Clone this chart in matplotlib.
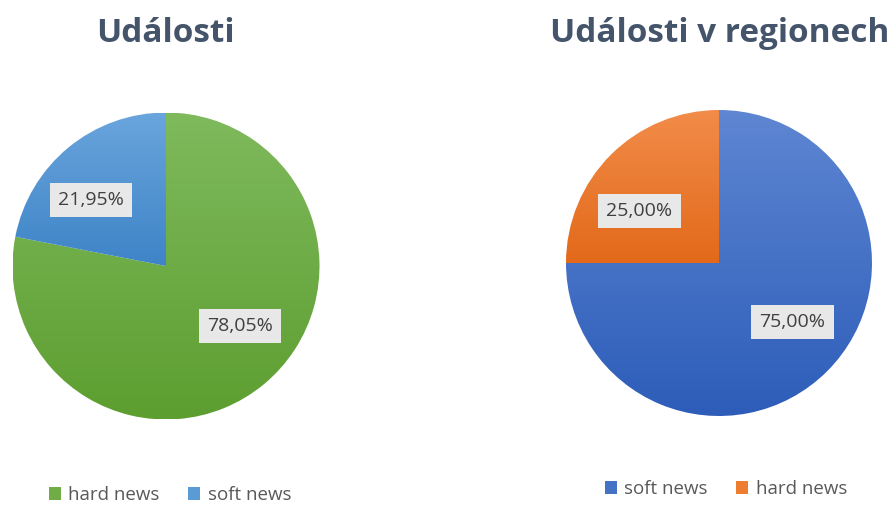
import matplotlib
matplotlib.use("Agg")
import matplotlib.pyplot as plt
import numpy as np
from matplotlib.colors import LinearSegmentedColormap
from matplotlib.patches import Rectangle

# ---- data ----
titles = ["Události", "Události v regionech"]
left_labels = ["hard news", "soft news"]
left_values = [78.05, 21.95]
right_labels = ["soft news", "hard news"]
right_values = [75.00, 25.00]

# ---- styles ----
left_grad = [("#7fba5d", "#5d9e30"), ("#6aa5dd", "#3e84c7")]
right_grad = [("#5e86d2", "#2d5db9"), ("#f28c49", "#e2691a")]
left_solid = ["#70ad47", "#5b9bd5"]
right_solid = ["#4472c4", "#ed7d31"]
# label positions (pie units) in the reference layout
left_lpos = [(0.48, -0.39), (-0.49, 0.43)]
right_lpos = [(0.48, -0.385), (-0.52, 0.34)]

W, H = 892, 505
fig = plt.figure(figsize=(W / 100, H / 100), dpi=100)
fig.patch.set_facecolor("white")

title_color = "#44546a"
text_color = "#404040"


def make_ax(cx, cy, r):
    ax = fig.add_axes([(cx - r) / W, (H - cy - r) / H, 2 * r / W, 2 * r / H])
    ax.set_xlim(-1, 1)
    ax.set_ylim(-1, 1)
    ax.set_aspect("equal")
    ax.axis("off")
    return ax


def draw_pie(ax, values, grads, lpos):
    wedges, _ = ax.pie(values, startangle=90, counterclock=False, radius=1,
                       colors=["none"] * len(values),
                       wedgeprops=dict(linewidth=0))
    grad = np.linspace(0, 1, 256).reshape(-1, 1)
    for w, (c_top, c_bot) in zip(wedges, grads):
        ext = w.get_path().get_extents()
        cmap = LinearSegmentedColormap.from_list("g", [c_top, c_bot])
        im = ax.imshow(grad, cmap=cmap, aspect="auto",
                       extent=[ext.x0, ext.x1, ext.y0, ext.y1],
                       origin="upper", zorder=1, interpolation="bilinear")
        im.set_clip_path(w)
    ax.set_xlim(-1, 1)
    ax.set_ylim(-1, 1)
    for v, (x, y) in zip(values, lpos):
        ax.text(x, y, f"{v:.2f}".replace(".", ",") + "%", ha="center",
                va="center", fontsize=14, color=text_color,
                family="Open Sans", zorder=5,
                bbox=dict(boxstyle="square,pad=0.42", facecolor="#e8e8e8",
                          edgecolor="none"))


axL = make_ax(166, 266, 153.5)
draw_pie(axL, left_values, left_grad, left_lpos)
axR = make_ax(719, 263, 153)
draw_pie(axR, right_values, right_grad, right_lpos)

fig.text(165 / W, 1 - 33 / H, titles[0], ha="center", va="center",
         fontsize=24, fontweight="bold", color=title_color, family="Open Sans")
fig.text(720 / W, 1 - 33 / H, titles[1], ha="center", va="center",
         fontsize=24, fontweight="bold", color=title_color, family="Open Sans")


def legend(labels, colors, x, y):
    handles = [Rectangle((0, 0), 1, 1, facecolor=c, edgecolor="none") for c in colors]
    leg = fig.legend(handles, labels, loc="center", bbox_to_anchor=(x / W, 1 - y / H),
                     ncol=len(labels), frameon=False, handlelength=0.65,
                     handleheight=0.65, handletextpad=0.4, columnspacing=1.5,
                     prop=dict(family="Open Sans", size=13.5))
    for t in leg.get_texts():
        t.set_color("#595959")


legend(left_labels, left_solid, 170, 495)
legend(right_labels, right_solid, 726, 489)

fig.savefig("out.png", dpi=100, facecolor="white")
